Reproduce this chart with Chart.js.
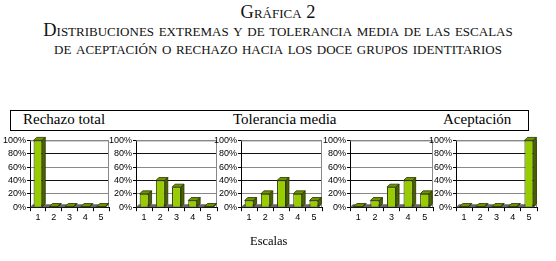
<!DOCTYPE html>
<html>
<head>
<meta charset="utf-8">
<script src="https://cdn.jsdelivr.net/npm/chart.js@4.4.0/dist/chart.umd.min.js"></script>
<style>
  body { margin:0; background:#fff; width:556px; height:261px; position:relative; overflow:hidden; }
  .t { position:absolute; left:0; width:556px; text-align:center; font-family:"Liberation Serif", serif; font-variant:small-caps; color:#111; white-space:nowrap; }
  #box { position:absolute; left:10px; top:110px; width:517px; height:19px; border:1px solid #000; font-family:"Liberation Serif", serif; font-size:15px; }
  #box span { position:absolute; top:0px; }
  canvas { position:absolute; }
  #esc { position:absolute; left:250px; top:234px; font-family:"Liberation Serif", serif; font-size:12.5px; }
</style>
</head>
<body>
<div class="t" style="top:2px;font-size:18.4px;">Gráfica 2</div>
<div class="t" style="top:20px;font-size:18.4px;">Distribuciones extremas y de tolerancia media de las escalas</div>
<div class="t" style="top:38px;font-size:18.4px;">de aceptación o rechazo hacia los doce grupos identitarios</div>
<div id="box">
  <span style="left:12px">Rechazo total</span>
  <span style="left:222px">Tolerancia media</span>
  <span style="left:432px">Aceptación</span>
</div>
<canvas id="c1" width="110" height="90" style="left:2px;top:134px"></canvas>
<canvas id="c2" width="112" height="90" style="left:108px;top:134px"></canvas>
<canvas id="c3" width="112" height="90" style="left:213px;top:134px"></canvas>
<canvas id="c4" width="114" height="90" style="left:322px;top:134px"></canvas>
<canvas id="c5" width="112" height="90" style="left:428px;top:134px"></canvas>
<div id="esc">Escalas</div>
<script>
// escalas 1..5
const escalas = ['1','2','3','4','5'];
const yTicks = [0,20,40,60,80,100];

// porcentajes
const rechazoTotal = [100, 1, 1, 1, 1];
const tolerancia1 = [20, 40, 30, 10, 1];
const toleranciaMedia = [10, 20, 40, 20, 10];
const tolerancia2 = [1, 10, 30, 40, 20];
const aceptacion = [1, 1, 1, 1, 100];

// 3d look for bars + floor
const bar3d = {
  id: 'bar3d',
  beforeDatasetsDraw(chart) {
    const c = chart.ctx, a = chart.chartArea;
    c.save();
    // top and right wall edges
    c.strokeStyle = '#888';
    c.lineWidth = 1;
    c.beginPath();
    c.moveTo(a.left, a.top + 0.5); c.lineTo(a.right - 0.5, a.top + 0.5); c.lineTo(a.right - 0.5, a.bottom);
    c.stroke();
    c.fillStyle = '#666';
    c.beginPath();
    c.moveTo(a.left, a.bottom);
    c.lineTo(a.left + 3, a.bottom - 3);
    c.lineTo(a.right, a.bottom - 3);
    c.lineTo(a.right - 3, a.bottom);
    c.closePath();
    c.fill();
    c.restore();
  },
  afterDatasetsDraw(chart) {
    const c = chart.ctx;
    const d = 3;
    c.save();
    c.lineWidth = 0.8;
    c.strokeStyle = '#263300';
    chart.getDatasetMeta(0).data.forEach(b => {
      const x0 = b.x - b.width / 2, x1 = b.x + b.width / 2;
      c.fillStyle = '#6f9400';
      c.beginPath();
      c.moveTo(x0, b.y); c.lineTo(x0 + d, b.y - d); c.lineTo(x1 + d, b.y - d); c.lineTo(x1, b.y);
      c.closePath(); c.fill(); c.stroke();
      c.fillStyle = '#4a6300';
      c.beginPath();
      c.moveTo(x1, b.y); c.lineTo(x1 + d, b.y - d); c.lineTo(x1 + d, b.base - d); c.lineTo(x1, b.base);
      c.closePath(); c.fill(); c.stroke();
    });
    c.restore();
  }
};

function chartIt(id, values) {
  const ctx = document.getElementById(id).getContext('2d');
  new Chart(ctx, {
    type: 'bar',
    data: {
      labels: escalas,
      datasets: [{
        data: values,
        backgroundColor: '#99cc00',
        borderColor: '#263300',
        borderWidth: 1,
        barPercentage: 0.55,
        categoryPercentage: 1
      }]
    },
    plugins: [bar3d],
    options: {
      responsive: false,
      animation: false,
      layout: { padding: { top: 4, right: 3, left: 0, bottom: 0 } },
      plugins: { legend: { display: false }, tooltip: { enabled: false } },
      scales: {
        x: {
          grid: { display: true, drawOnChartArea: false, color: '#000', tickLength: 4, offset: true },
          border: { color: '#000', width: 1 },
          ticks: { color: '#000', font: { family: 'Liberation Sans', size: 9 }, padding: 1, maxRotation: 0, autoSkip: false }
        },
        y: {
          min: 0, max: 100,
          afterBuildTicks: axis => { axis.ticks = yTicks.map(v => ({ value: v })); },
          grid: {
            color: ctx => (ctx.tick && (ctx.tick.value == 40 || ctx.tick.value == 80)) ? '#111' : '#888',
            tickLength: 3, tickColor: '#000'
          },
          border: { color: '#000', width: 1 },
          ticks: { color: '#000', font: { family: 'Liberation Sans', size: 9 }, padding: 1, autoSkip: false, callback: v => v + '%' }
        }
      }
    }
  });
}

chartIt('c1', rechazoTotal);
chartIt('c2', tolerancia1);
chartIt('c3', toleranciaMedia);
chartIt('c4', tolerancia2);
chartIt('c5', aceptacion);
</script>
</body>
</html>
